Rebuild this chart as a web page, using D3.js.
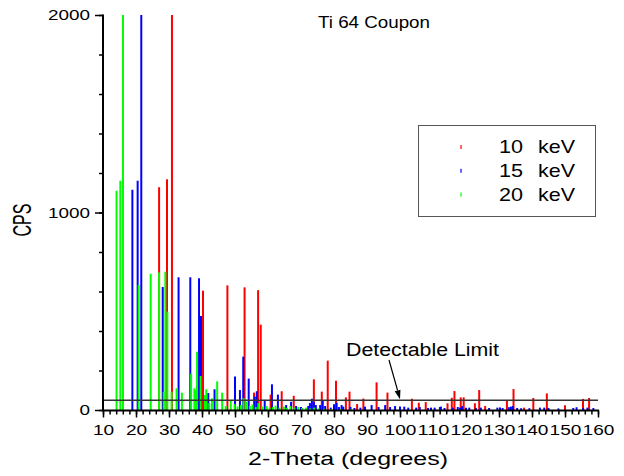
<!DOCTYPE html>
<html>
<head>
<meta charset="utf-8">
<script src="https://cdn.jsdelivr.net/npm/d3@7"></script>
<style>
  html, body { margin: 0; padding: 0; background: #fff; }
  svg { display: block; font-family: "Liberation Sans", Arial, sans-serif; }
</style>
</head>
<body>
<svg id="chart" width="624" height="476"></svg>
<script>
// XRD peak list for a Ti-6Al-4V coupon at three tube energies: [2-theta (deg), counts per second]
const peaks10keV = [
  [27.0, 1128], [29.4, 1168], [30.9, 2600], [40.3, 604], [47.7, 631], [52.9, 621],
  [55.75, 88], [57.0, 607], [57.8, 432], [60.8, 78], [64.15, 95], [67.8, 72],
  [73.9, 155], [76.3, 93], [78.1, 250], [80.6, 148], [83.6, 64], [84.7, 93],
  [87.0, 30], [88.9, 58], [92.9, 140], [96.2, 88], [103.6, 57], [105.7, 37],
  [107.8, 40], [114.4, 34], [115.7, 62], [116.5, 96], [118.4, 64], [119.3, 64],
  [122.7, 34], [124.0, 101], [125.8, 20], [132.4, 51], [134.4, 106], [137.6, 12],
  [140.4, 61], [144.5, 84], [150.0, 24], [155.45, 56], [157.3, 61]
];
const peaks15keV = [
  [18.9, 1115], [20.5, 1161], [21.6, 2600], [28.1, 623], [32.9, 672], [36.45, 672],
  [39.1, 667], [39.7, 476], [41.9, 86], [43.8, 105], [50.0, 169], [51.5, 101],
  [52.5, 270], [54.15, 159], [56.0, 68], [56.6, 95], [59.0, 51], [61.2, 130],
  [63.0, 78], [65.5, 25], [67.0, 42], [68.5, 20], [70.0, 15], [72.2, 20],
  [72.7, 35], [73.3, 57], [73.9, 40], [74.5, 25], [75.8, 25], [76.6, 47],
  [77.3, 20], [79.0, 12], [80.0, 29], [80.8, 37], [81.5, 15], [82.3, 25],
  [82.8, 17], [85.0, 15], [86.2, 10], [88.0, 12], [89.4, 17], [91.4, 25],
  [93.5, 15], [95.5, 25], [97.0, 15], [98.5, 20], [100.0, 18], [101.3, 17],
  [102.5, 12], [104.9, 12], [106.0, 15], [108.5, 10], [109.4, 12], [110.5, 12],
  [112.1, 15], [112.4, 17], [113.5, 10], [116.0, 12], [117.5, 15], [118.2, 12],
  [118.8, 20], [120.0, 12], [121.0, 12], [123.0, 10], [124.5, 12], [127.0, 10],
  [129.5, 12], [130.3, 13], [131.1, 10], [133.0, 14], [133.6, 17], [134.2, 20],
  [135.5, 10], [136.7, 9], [139.2, 9], [142.4, 12], [143.7, 12], [145.0, 10],
  [148.0, 8], [152.5, 10], [153.5, 14], [155.5, 10], [156.8, 12], [158.6, 10]
];
const peaks20keV = [
  [14.1, 1110], [15.25, 1161], [16.06, 2600], [20.8, 633], [24.45, 690], [27.0, 697],
  [28.4, 92], [28.9, 700], [29.5, 498], [30.8, 93], [32.3, 110], [33.9, 88],
  [36.7, 184], [37.7, 110], [38.2, 100], [38.5, 295], [39.6, 172], [40.9, 76],
  [41.3, 105], [42.2, 35], [43.0, 59], [44.6, 145], [46.1, 88], [47.2, 20],
  [48.7, 46], [49.9, 30], [50.8, 18], [51.8, 25], [52.6, 60], [53.5, 42],
  [54.5, 20], [55.3, 28], [56.3, 15], [57.1, 35], [58.2, 18], [59.6, 20],
  [60.5, 12], [61.5, 15], [62.3, 22], [63.5, 12], [64.8, 18], [65.7, 10],
  [66.8, 20], [68.0, 12], [69.2, 15], [70.3, 10], [71.5, 12], [72.8, 8],
  [74.0, 12], [75.3, 8], [77.0, 6], [79.0, 5], [82.0, 5], [85.0, 4]
];

const energyValues = ["10", "15", "20"];
const energyUnit = "keV";
const seriesColors = ["#ff0000", "#0000ff", "#00ff00"];
const xTickLabels = [10, 20, 30, 40, 50, 60, 70, 80, 90, 100, 110, 120, 130, 140, 150, 160];
const yTickLabels = [0, 1000, 2000];
const detectableLimit = 50;
const titleText = "Ti 64 Coupon";
const xTitle = "2-Theta (degrees)";
const yTitle = "CPS";
const limitText = "Detectable Limit";

const svg = d3.select("#chart");
const x = d3.scaleLinear().domain([10, 160]).range([103, 598]);
const y = d3.scaleLinear().domain([0, 2000]).range([410, 15]);

svg.append("defs").append("clipPath").attr("id", "plotClip")
  .append("rect").attr("x", 100).attr("y", y(2000)).attr("width", 500).attr("height", y(0) - y(2000));

// peaks: 10 keV underneath, then 15 keV, then 20 keV on top
const plot = svg.append("g").attr("clip-path", "url(#plotClip)");
[peaks10keV, peaks15keV, peaks20keV].forEach((peaks, i) => {
  plot.append("g").selectAll("line").data(peaks).join("line")
    .attr("x1", d => x(d[0])).attr("x2", d => x(d[0]))
    .attr("y1", y(0)).attr("y2", d => y(d[1]))
    .attr("stroke", seriesColors[i]).attr("stroke-width", 2);
});

// detectable limit
svg.append("line")
  .attr("x1", x(10)).attr("x2", x(160))
  .attr("y1", y(detectableLimit)).attr("y2", y(detectableLimit))
  .attr("stroke", "#333").attr("stroke-width", 1.5);

svg.append("text").attr("x", 346).attr("y", 356)
  .attr("font-size", 18).attr("textLength", 153).attr("lengthAdjust", "spacingAndGlyphs")
  .attr("fill", "#000").text(limitText);

// arrow pointing at the limit line
const ax0 = 389, ay0 = 360, ax1 = 400, ay1 = y(detectableLimit) - 1;
const ang = Math.atan2(ay1 - ay0, ax1 - ax0);
const hl = 9, hw = 3;
const bx = ax1 - hl * Math.cos(ang), by = ay1 - hl * Math.sin(ang);
svg.append("line").attr("x1", ax0).attr("y1", ay0).attr("x2", bx).attr("y2", by)
  .attr("stroke", "#000").attr("stroke-width", 1.2);
svg.append("path")
  .attr("d", `M${ax1},${ay1}L${bx + hw * Math.sin(ang)},${by - hw * Math.cos(ang)}L${bx - hw * Math.sin(ang)},${by + hw * Math.cos(ang)}Z`)
  .attr("fill", "#000");

// y axis: minor ticks every 200, labelled major ticks
const yAxisG = svg.append("g").attr("transform", `translate(${x(10)},0)`);
yAxisG.append("g").call(d3.axisLeft(y).tickValues(d3.range(0, 2001, 200)).tickSize(4).tickFormat(""))
  .call(g => g.select(".domain").remove());
yAxisG.append("g").call(d3.axisLeft(y).tickValues(yTickLabels).tickSize(8).tickPadding(5).tickFormat(d3.format("d")))
  .call(g => g.select(".domain").remove());
yAxisG.selectAll(".tick line").attr("stroke", "#000").attr("stroke-width", 1.5);
yAxisG.selectAll(".tick text").attr("font-size", 15).attr("fill", "#000")
  .attr("font-family", "Liberation Sans, Arial, sans-serif")
  .attr("textLength", d => String(d).length * 10.5).attr("lengthAdjust", "spacingAndGlyphs");
yAxisG.append("line").attr("x1", 0).attr("x2", 0).attr("y1", y(2000) - 0.5).attr("y2", y(0) + 1)
  .attr("stroke", "#000").attr("stroke-width", 2);

// x axis: minor ticks every 2 degrees, labelled major ticks every 10
const xAxisG = svg.append("g").attr("transform", `translate(0,${y(0) + 0.5})`);
xAxisG.append("g").call(d3.axisBottom(x).tickValues(d3.range(10, 161, 2)).tickSize(4).tickFormat(""))
  .call(g => g.select(".domain").remove());
xAxisG.append("g").call(d3.axisBottom(x).tickValues(xTickLabels).tickSize(7).tickPadding(7).tickFormat(d3.format("d")))
  .call(g => g.select(".domain").remove());
xAxisG.selectAll(".tick line").attr("stroke", "#000").attr("stroke-width", 1.5);
xAxisG.selectAll(".tick text").attr("font-size", 15).attr("fill", "#000")
  .attr("font-family", "Liberation Sans, Arial, sans-serif")
  .attr("textLength", d => String(d).length * 10.6).attr("lengthAdjust", "spacingAndGlyphs");
xAxisG.append("line").attr("x1", x(10) - 1).attr("x2", x(160) + 1).attr("y1", 0).attr("y2", 0)
  .attr("stroke", "#000").attr("stroke-width", 2);

// titles
svg.append("text").attr("x", 318).attr("y", 28).attr("font-size", 17)
  .attr("textLength", 112).attr("lengthAdjust", "spacingAndGlyphs").text(titleText);
svg.append("text").attr("x", 248).attr("y", 465).attr("font-size", 18)
  .attr("textLength", 200).attr("lengthAdjust", "spacingAndGlyphs").text(xTitle);
svg.append("text").attr("text-anchor", "middle")
  .attr("transform", "translate(22,220) scale(1.5,1) rotate(-90)")
  .attr("y", 6).attr("font-size", 17).attr("textLength", 33).attr("lengthAdjust", "spacingAndGlyphs")
  .text(yTitle);

// legend
const legend = svg.append("g");
legend.append("rect").attr("x", 418.5).attr("y", 125.5).attr("width", 177).attr("height", 91)
  .attr("fill", "#fff").attr("stroke", "#555").attr("stroke-width", 1);
energyValues.forEach((e, i) => {
  const base = 153 + i * 23.8;
  legend.append("rect").attr("x", 460).attr("y", base - 8).attr("width", 2).attr("height", 4)
    .attr("fill", seriesColors[i]).attr("opacity", 0.6);
  legend.append("text").attr("x", 499).attr("y", base).attr("font-size", 19)
    .attr("textLength", 24).attr("lengthAdjust", "spacingAndGlyphs").text(e);
  legend.append("text").attr("x", 538).attr("y", base).attr("font-size", 19)
    .attr("textLength", 37).attr("lengthAdjust", "spacingAndGlyphs").text(energyUnit);
});
</script>
</body>
</html>
